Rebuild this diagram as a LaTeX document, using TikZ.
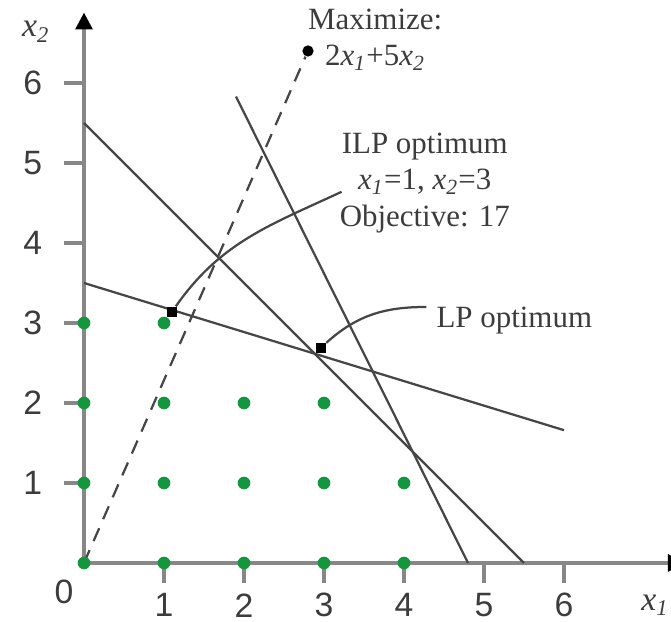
\documentclass[tikz,border=0pt]{standalone}
\usepackage{fontspec}
\setmainfont{Liberation Serif}
\setsansfont{Liberation Sans}
\usetikzlibrary{arrows.meta,positioning}
\definecolor{AxisGray}{RGB}{135,135,135}
\definecolor{LineDark}{RGB}{70,70,70}
\definecolor{TextDark}{RGB}{60,60,60}
\definecolor{DotGreen}{RGB}{20,150,60}
\newcommand{\xv}[1]{\textit{x}\textsubscript{\textit{#1}}}

\begin{document}
\begin{tikzpicture}[
    axis/.style={AxisGray,line width=1.2pt},
    tickmark/.style={AxisGray,line width=1.2pt},
    cons/.style={LineDark,line width=0.8pt},
    objline/.style={LineDark,line width=0.8pt,dash pattern=on 5pt off 3.5pt},
    lab/.style={font=\fontsize{11}{13}\selectfont,text=TextDark,align=center,inner sep=0pt},
    num/.style={font=\sffamily\fontsize{12}{14}\selectfont,text=TextDark,inner sep=0pt},
    pt/.style={fill=DotGreen,circle,inner sep=0pt,minimum size=4.5pt},
    opt/.style={fill=black,inner sep=0pt,minimum size=3.5pt},
    pointer/.style={LineDark,line width=0.8pt}
  ]
  \useasboundingbox (-1.05,-0.7375) rectangle (7.3375,7.0375);

  % axes
  \coordinate (o) at (0,0);
  \coordinate (xend) at (7.51,0);
  \coordinate (yend) at (0,6.88);
  \draw[axis,-{Triangle[width=6pt,length=6pt,color=black]}] (o) -- (xend);
  \draw[axis,-{Triangle[width=6pt,length=6pt,color=black]}] (o) -- (yend);
  \foreach \i in {1,...,6} {
    \draw[tickmark] (\i,0) -- (\i,-0.25);
    \draw[tickmark] (0,\i) -- (-0.25,\i);
    \node[num] (xt\i) at (\i,-0.53) {\i};
    \node[num] (yt\i) at (-0.64,\i) {\i};
  }
  \node[num] (zero) at (-0.25,-0.36) {0};
  \node[lab,font=\fontsize{12}{14}\selectfont] (xlab) at (7.14,-0.53) {\xv{1}};
  \node[lab,font=\fontsize{12}{14}\selectfont] (ylab) at (-0.6,6.64) {\xv{2}};

  % constraints
  \coordinate (c1a) at (0,5.5);
  \coordinate (c1b) at (5.5,0);
  \coordinate (c2a) at (0,3.5);
  \coordinate (c2b) at (6,1.66);
  \coordinate (c3a) at (1.9,5.83);
  \coordinate (c3b) at (4.8,0);
  \draw[cons] (c1a) -- (c1b);
  \draw[cons] (c2a) -- (c2b);
  \draw[cons] (c3a) -- (c3b);

  % objective direction
  \node[circle,fill=black,inner sep=0pt,minimum size=4pt] (objtip) at (2.8,6.4) {};
  \draw[objline] (o) -- (objtip);
  \node[lab] (maxlab) at (3.64,6.54) {Maximize:\\2\xv{1}+5\xv{2}};

  % integer points
  \foreach \x/\ymax in {0/3,1/3,2/2,3/2,4/1} {
    \foreach \y in {0,...,\ymax} {
      \node[pt] (p\x\y) at (\x,\y) {};
    }
  }

  % optima
  \node[opt] (ilp) at (1.1,3.14) {};
  \node[opt] (lp) at (2.96,2.69) {};
  \coordinate (ilpend) at (3.22,4.64);
  \coordinate (lpend) at (4.28,3.2);
  \draw[pointer] (ilp) to[out=55,in=205] (ilpend);
  \draw[pointer] (lp) to[out=42,in=180] (lpend);
  \node[lab] (ilplab) at (4.26,4.75) {ILP optimum\\\xv{1}=1, \xv{2}=3\\Objective: 17};
  \node[lab,anchor=west] (lplab) at (4.4,3.03) {LP optimum};
\end{tikzpicture}
\end{document}
